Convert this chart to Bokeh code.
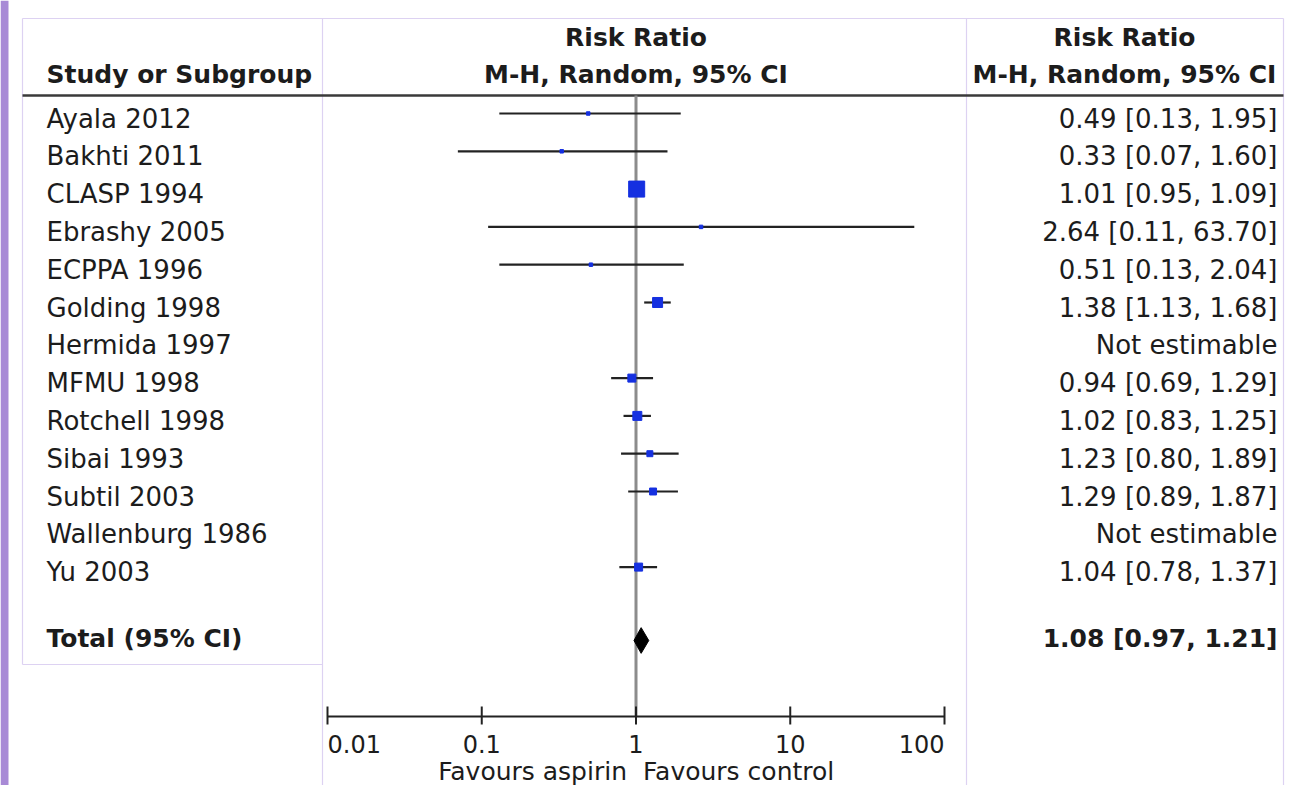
import math
from bokeh.plotting import figure
from bokeh.models import Range1d, ColumnDataSource
from bokeh.core.properties import value
from bokeh.embed import file_html
from bokeh.resources import INLINE

# ---------------- data ----------------
studies = ["Ayala 2012", "Bakhti 2011", "CLASP 1994", "Ebrashy 2005", "ECPPA 1996",
           "Golding 1998", "Hermida 1997", "MFMU 1998", "Rotchell 1998", "Sibai 1993",
           "Subtil 2003", "Wallenburg 1986", "Yu 2003"]
rr = [0.49, 0.33, 1.01, 2.64, 0.51, 1.38, None, 0.94, 1.02, 1.23, 1.29, None, 1.04]
ci_low = [0.13, 0.07, 0.95, 0.11, 0.13, 1.13, None, 0.69, 0.83, 0.80, 0.89, None, 0.78]
ci_high = [1.95, 1.60, 1.09, 63.70, 2.04, 1.68, None, 1.29, 1.25, 1.89, 1.87, None, 1.37]
weights = [2.5, 2.5, 53.0, 2.5, 2.5, 20.7, None, 13.2, 16.7, 7.4, 10.0, None, 13.2]
ci_text = ["0.49 [0.13, 1.95]", "0.33 [0.07, 1.60]", "1.01 [0.95, 1.09]", "2.64 [0.11, 63.70]",
           "0.51 [0.13, 2.04]", "1.38 [1.13, 1.68]", "Not estimable", "0.94 [0.69, 1.29]",
           "1.02 [0.83, 1.25]", "1.23 [0.80, 1.89]", "1.29 [0.89, 1.87]", "Not estimable",
           "1.04 [0.78, 1.37]"]
total_name = "Total (95% CI)"
total_rr, total_low, total_high = 1.08, 0.97, 1.21
total_text = "1.08 [0.97, 1.21]"
ticks = [0.01, 0.1, 1, 10, 100]
tick_labels = ["0.01", "0.1", "1", "10", "100"]
header_left = "Study or Subgroup"
header_lines = ["Risk Ratio", "M-H, Random, 95% CI"]
favours_left = "Favours aspirin"
favours_right = "Favours control"

# ---------------- layout helpers (reference pixel -> data) ----------------
W, H = 1285, 785
X0_PX, DEC_PX = 327.0, 154.25   # pixel of 0.01, pixels per decade
Y0_PX, ROW_PX = 113.0, 37.8     # pixel of first study row, row spacing


def xv(px):
    return 10 ** (-2 + (px - X0_PX) / DEC_PX)


def yv(px):
    return (px - Y0_PX) / ROW_PX


FONT = value("DejaVu Sans")
TXT = "#1c1c1c"

p = figure(width=W, height=H, x_axis_type="log",
           x_range=Range1d(xv(0), xv(W)),
           y_range=Range1d(yv(H), yv(0)),
           output_backend="svg", toolbar_location=None, min_border=0)
p.axis.visible = False
p.grid.visible = False
p.outline_line_color = None
p.background_fill_color = "white"
p.border_fill_color = "white"

# purple page strip on the left
p.quad(left=[xv(0)], right=[xv(8)], bottom=[yv(H)], top=[yv(0)],
       fill_color="#a88ad6", line_color=None)

# table frame lines (light lavender)
LAV = "#ddd2f2"
RX = 1283
p.multi_line(xs=[[xv(22), xv(RX)], [xv(22), xv(22)], [xv(22), xv(322)],
                 [xv(322), xv(322)], [xv(966), xv(966)], [xv(RX), xv(RX)]],
             ys=[[yv(18), yv(18)], [yv(18), yv(664)], [yv(664), yv(664)],
                 [yv(18), yv(H)], [yv(18), yv(H)], [yv(18), yv(H)]],
             line_color=LAV, line_width=1.2)

# header separator
p.segment(x0=[xv(22)], y0=[yv(95)], x1=[xv(RX)], y1=[yv(95)], line_color="#3a3a3a", line_width=2.5)

# headers
hdr = dict(text_font=FONT, text_font_style="bold", text_font_size="25px", text_color=TXT,
           text_baseline="middle")
p.text(x=[xv(46)], y=[yv(74)], text=[header_left], text_align="left", **hdr)
p.text(x=[1.0, 1.0], y=[yv(37), yv(74)], text=header_lines, text_align="center", **hdr)
p.text(x=[xv(1124), xv(1124)], y=[yv(37), yv(74)], text=header_lines, text_align="center", **hdr)

# line of no effect
p.segment(x0=[1.0], y0=[yv(95)], x1=[1.0], y1=[yv(716)], line_color="#8c8c8c", line_width=3)

# study rows
rows = list(range(len(studies)))
idx = [i for i in rows if rr[i] is not None]
src = ColumnDataSource(dict(
    y=[rows[i] for i in idx],
    rr=[rr[i] for i in idx],
    lo=[ci_low[i] for i in idx],
    hi=[ci_high[i] for i in idx],
    size=[max(3.5, 2.2 * math.sqrt(weights[i])) for i in idx],
))
p.segment(x0="lo", y0="y", x1="hi", y1="y", source=src, line_color="#222222", line_width=2.2)
p.scatter(x="rr", y="y", size="size", marker="square", source=src,
          fill_color="#1530e0", line_color="#1530e0", line_width=1)

body = dict(text_font=FONT, text_font_size="26px", text_color=TXT, text_baseline="middle", y_offset=5)
p.text(x=[xv(46)] * len(studies), y=rows, text=studies, text_align="left", **body)
p.text(x=[xv(1277)] * len(studies), y=rows, text=ci_text, text_align="right", **body)

# total
ty = yv(640)
p.patch(x=[total_low, total_rr, total_high, total_rr],
        y=[ty, ty - 0.34, ty, ty + 0.34], fill_color="black", line_color="black")
tot = dict(text_font=FONT, text_font_style="bold", text_font_size="25px", text_color=TXT,
           text_baseline="middle")
p.text(x=[xv(46)], y=[yv(638)], text=[total_name], text_align="left", **tot)
p.text(x=[xv(1277)], y=[yv(638)], text=[total_text], text_align="right", **tot)

# bottom scale axis
ay = yv(716)
p.segment(x0=[ticks[0]], y0=[ay], x1=[ticks[-1]], y1=[ay], line_color="#222222", line_width=2)
p.segment(x0=ticks, y0=[yv(706)] * len(ticks), x1=ticks, y1=[yv(724)] * len(ticks),
          line_color="#222222", line_width=2)
tk = dict(text_font=FONT, text_font_size="24px", text_color=TXT, text_baseline="middle")
p.text(x=ticks[:1], y=[yv(743)], text=tick_labels[:1], text_align="left", **tk)
p.text(x=ticks[1:-1], y=[yv(743)] * 3, text=tick_labels[1:-1], text_align="center", **tk)
p.text(x=ticks[-1:], y=[yv(743)], text=tick_labels[-1:], text_align="right", **tk)
tk2 = dict(tk, text_font_size="25px")
p.text(x=[1.0], y=[yv(771)], text=[favours_left], text_align="right", x_offset=-9, **tk2)
p.text(x=[1.0], y=[yv(771)], text=[favours_right], text_align="left", x_offset=7, **tk2)

open("out.html", "w").write(file_html(p, INLINE))
